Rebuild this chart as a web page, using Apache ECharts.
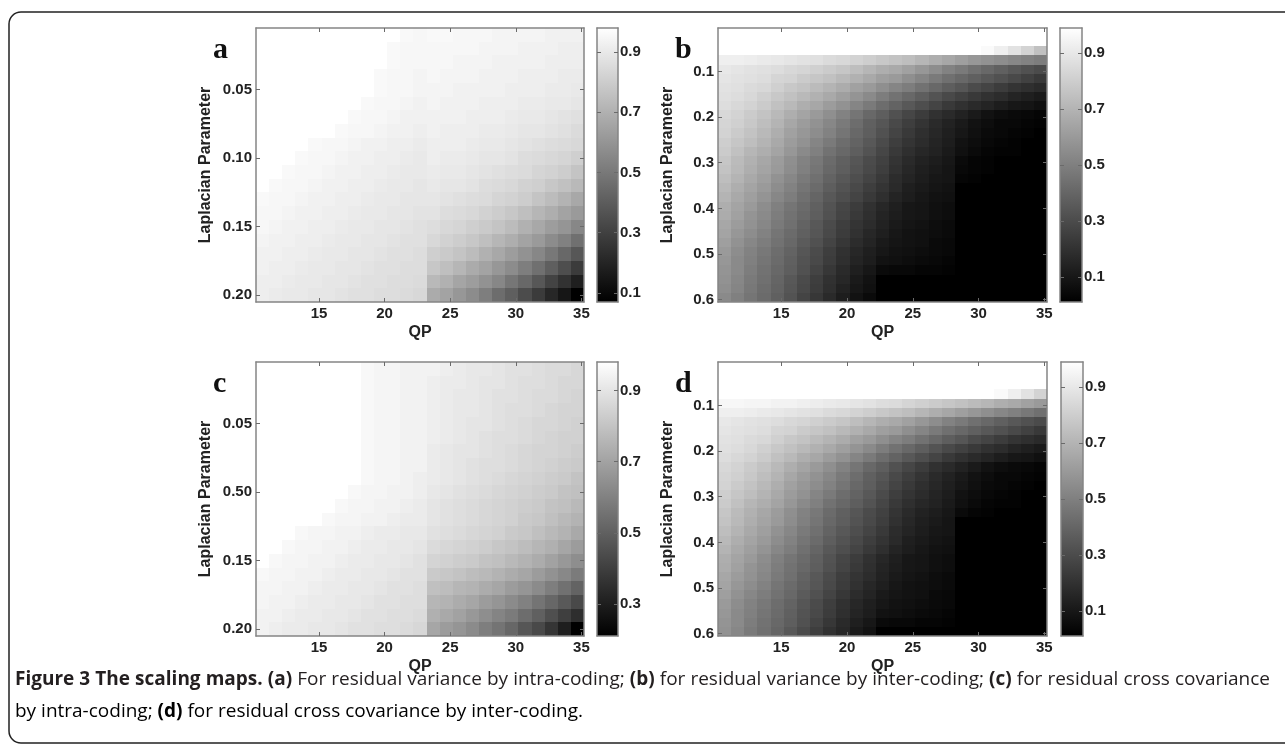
<!DOCTYPE html>
<html>
<head>
<meta charset="utf-8">
<title>Figure 3 The scaling maps</title>
<script src="https://cdn.jsdelivr.net/npm/echarts@6/dist/echarts.min.js"></script>
<style>
  html, body { margin: 0; padding: 0; background: #fff; }
  #chart { width: 1285px; height: 744px; }
</style>
</head>
<body>
<div id="chart"></div>
<script>
// QP columns (x) shared by all four maps
const qpCols = [11, 12, 13, 14, 15, 16, 17, 18, 19, 20, 21, 22, 23, 24, 25, 26, 27, 28, 29, 30, 31, 32, 33, 34, 35]
// Laplacian parameter rows: maps a/c, maps b/d
const lambdaAC = [0.01, 0.02, 0.03, 0.04, 0.05, 0.06, 0.07, 0.08, 0.09, 0.10, 0.11, 0.12, 0.13, 0.14, 0.15, 0.16, 0.17, 0.18, 0.19, 0.20]
const lambdaBD = [0.015, 0.035, 0.055, 0.075, 0.095, 0.115, 0.135, 0.155, 0.175, 0.195, 0.215, 0.235, 0.255, 0.275, 0.295,
  0.315, 0.335, 0.355, 0.375, 0.395, 0.415, 0.435, 0.455, 0.475, 0.495, 0.515, 0.535, 0.555, 0.575, 0.595]

// tick labels
const xTicks = [15, 20, 25, 30, 35]
const yTicksAC = [0.05, 0.10, 0.15, 0.20]
const yLabelsA = ['0.05', '0.10', '0.15', '0.20']
const yLabelsC = ['0.05', '0.50', '0.15', '0.20']
const yTicksBD = [0.1, 0.2, 0.3, 0.4, 0.5, 0.6]
const yLabelsBD = ['0.1', '0.2', '0.3', '0.4', '0.5', '0.6']
const cbTicks = [0.1, 0.3, 0.5, 0.7, 0.9]
const cbTicksC = [0.3, 0.5, 0.7, 0.9]

// colour ranges of the colour bars
const rangeA = [0.07, 0.98]
const rangeB = [0.01, 0.99]
const rangeC = [0.21, 0.98]
const rangeD = [0.01, 0.99]

// (a) residual variance, intra-coding
const mapA = [
  [.98, .98, .98, .98, .98, .98, .98, .98, .98, .98, .98, .96, .95, .96, .96, .95, .95, .95, .94, .94, .94, .94, .93, .93, .93],
  [.98, .98, .98, .98, .98, .98, .98, .98, .98, .98, .96, .95, .95, .95, .95, .95, .95, .94, .94, .94, .93, .93, .93, .92, .92],
  [.98, .98, .98, .98, .98, .98, .98, .98, .98, .98, .96, .95, .95, .95, .95, .94, .94, .94, .93, .93, .93, .93, .92, .92, .92],
  [.98, .98, .98, .98, .98, .98, .98, .98, .98, .96, .95, .95, .94, .95, .94, .94, .94, .93, .93, .93, .92, .92, .92, .91, .91],
  [.98, .98, .98, .98, .98, .98, .98, .98, .98, .96, .95, .95, .94, .94, .94, .93, .93, .93, .93, .92, .92, .92, .91, .91, .90],
  [.98, .98, .98, .98, .98, .98, .98, .98, .96, .95, .95, .94, .93, .94, .93, .93, .93, .92, .92, .92, .91, .91, .90, .90, .89],
  [.98, .98, .98, .98, .98, .98, .98, .96, .95, .95, .94, .93, .93, .93, .93, .93, .92, .92, .92, .91, .90, .90, .89, .88, .87],
  [.98, .98, .98, .98, .98, .98, .96, .95, .95, .94, .93, .93, .92, .93, .92, .92, .92, .91, .91, .90, .89, .89, .88, .87, .85],
  [.98, .98, .98, .98, .96, .95, .95, .94, .93, .93, .92, .92, .91, .92, .92, .92, .91, .90, .90, .89, .88, .87, .86, .85, .84],
  [.98, .98, .98, .96, .95, .95, .94, .93, .93, .92, .92, .91, .90, .92, .91, .91, .90, .89, .89, .88, .86, .85, .84, .83, .81],
  [.98, .98, .96, .95, .95, .94, .93, .93, .92, .92, .91, .90, .90, .91, .90, .90, .89, .88, .87, .86, .85, .83, .82, .80, .77],
  [.98, .96, .95, .95, .94, .93, .93, .92, .92, .91, .90, .90, .89, .90, .89, .89, .88, .86, .85, .84, .82, .81, .78, .76, .73],
  [.96, .95, .95, .94, .93, .93, .92, .92, .91, .90, .90, .89, .89, .89, .88, .87, .86, .85, .83, .82, .80, .77, .74, .71, .67],
  [.95, .95, .94, .93, .93, .92, .92, .91, .90, .90, .89, .89, .88, .88, .86, .85, .84, .82, .80, .78, .75, .72, .69, .65, .62],
  [.95, .94, .93, .93, .92, .92, .91, .90, .90, .89, .89, .88, .87, .86, .84, .83, .81, .79, .77, .74, .70, .67, .63, .60, .55],
  [.94, .93, .93, .92, .92, .91, .90, .90, .89, .89, .88, .87, .87, .84, .82, .80, .78, .75, .72, .69, .65, .62, .57, .53, .47],
  [.93, .93, .92, .92, .91, .90, .90, .89, .89, .88, .87, .87, .86, .81, .79, .77, .74, .70, .67, .63, .59, .55, .50, .44, .38],
  [.93, .92, .92, .91, .90, .90, .89, .89, .88, .87, .87, .86, .86, .78, .75, .72, .68, .65, .61, .57, .52, .47, .41, .35, .28],
  [.92, .92, .91, .90, .90, .89, .89, .88, .87, .87, .86, .86, .85, .73, .70, .66, .63, .59, .55, .49, .44, .38, .31, .25, .18],
  [.92, .91, .90, .90, .89, .89, .88, .87, .87, .86, .86, .85, .84, .68, .65, .61, .57, .52, .46, .41, .34, .28, .21, .15, .07]
]

// (b) residual variance, inter-coding
const mapB = [
  [.99, .99, .99, .99, .99, .99, .99, .99, .99, .99, .99, .99, .99, .99, .99, .99, .99, .99, .99, .99, .99, .99, .99, .99, .99],
  [.99, .99, .99, .99, .99, .99, .99, .99, .99, .99, .99, .99, .99, .99, .99, .99, .99, .99, .99, .99, .99, .99, .99, .99, .99],
  [.99, .99, .99, .99, .99, .99, .99, .99, .99, .99, .99, .99, .99, .99, .99, .99, .99, .99, .99, .99, .97, .93, .88, .82, .75],
  [.93, .93, .92, .91, .90, .89, .88, .87, .85, .84, .82, .80, .78, .76, .74, .71, .68, .65, .62, .59, .57, .55, .53, .51, .49],
  [.90, .89, .88, .87, .86, .84, .83, .81, .79, .77, .74, .71, .68, .66, .63, .59, .55, .51, .48, .44, .41, .38, .35, .32, .30],
  [.89, .88, .87, .86, .83, .82, .79, .77, .75, .72, .69, .66, .62, .60, .56, .52, .48, .44, .41, .38, .35, .32, .29, .26, .23],
  [.88, .87, .85, .84, .81, .78, .76, .73, .70, .67, .63, .60, .56, .52, .49, .45, .41, .37, .34, .30, .27, .24, .21, .19, .17],
  [.87, .86, .84, .81, .78, .75, .72, .69, .66, .62, .58, .54, .49, .45, .41, .37, .33, .29, .26, .23, .20, .18, .15, .13, .11],
  [.86, .84, .82, .79, .75, .72, .68, .65, .61, .57, .52, .48, .43, .39, .35, .31, .27, .23, .20, .17, .15, .12, .10, .09, .07],
  [.84, .82, .79, .76, .72, .68, .64, .60, .56, .51, .46, .41, .37, .32, .28, .24, .20, .17, .14, .11, .08, .06, .05, .04, .03],
  [.83, .81, .78, .74, .70, .65, .61, .57, .53, .48, .43, .38, .34, .29, .25, .21, .17, .14, .11, .08, .06, .04, .04, .03, .02],
  [.82, .79, .76, .72, .68, .63, .59, .55, .51, .46, .41, .37, .32, .27, .23, .19, .16, .13, .10, .07, .05, .04, .03, .02, .01],
  [.80, .77, .74, .70, .66, .61, .57, .52, .48, .43, .39, .35, .30, .25, .21, .18, .15, .12, .08, .06, .04, .03, .02, .01, .01],
  [.79, .75, .71, .68, .64, .59, .54, .50, .45, .41, .37, .33, .28, .23, .19, .16, .14, .11, .07, .05, .03, .02, .02, .01, .01],
  [.77, .73, .69, .65, .61, .56, .51, .47, .42, .38, .34, .30, .26, .21, .17, .14, .12, .10, .05, .03, .02, .01, .01, .01, .01],
  [.76, .72, .68, .64, .60, .55, .50, .46, .41, .37, .33, .29, .25, .20, .16, .13, .11, .09, .04, .03, .02, .01, .01, .01, .01],
  [.74, .70, .66, .62, .57, .53, .48, .44, .39, .35, .31, .27, .23, .18, .15, .12, .10, .09, .03, .02, .01, .01, .01, .01, .01],
  [.72, .68, .64, .60, .55, .51, .46, .42, .37, .33, .29, .25, .21, .17, .13, .11, .09, .08, .01, .01, .01, .01, .01, .01, .01],
  [.70, .66, .62, .58, .53, .49, .44, .40, .35, .31, .27, .23, .19, .15, .12, .10, .08, .07, .01, .01, .01, .01, .01, .01, .01],
  [.68, .64, .60, .55, .50, .46, .42, .38, .33, .28, .24, .20, .16, .13, .10, .09, .07, .06, .01, .01, .01, .01, .01, .01, .01],
  [.67, .63, .58, .54, .49, .45, .41, .37, .32, .27, .23, .19, .15, .12, .10, .09, .07, .06, .01, .01, .01, .01, .01, .01, .01],
  [.65, .61, .57, .53, .48, .44, .39, .35, .30, .25, .21, .18, .14, .11, .09, .08, .06, .05, .01, .01, .01, .01, .01, .01, .01],
  [.64, .59, .55, .51, .46, .42, .38, .34, .29, .24, .20, .16, .13, .10, .08, .07, .06, .05, .01, .01, .01, .01, .01, .01, .01],
  [.62, .57, .53, .49, .45, .41, .36, .32, .27, .22, .18, .15, .11, .09, .08, .07, .05, .04, .01, .01, .01, .01, .01, .01, .01],
  [.60, .55, .51, .47, .43, .39, .34, .30, .25, .20, .16, .13, .10, .08, .07, .06, .05, .04, .01, .01, .01, .01, .01, .01, .01],
  [.59, .54, .50, .46, .42, .38, .33, .29, .24, .19, .15, .12, .08, .07, .06, .05, .04, .03, .01, .01, .01, .01, .01, .01, .01],
  [.58, .54, .49, .45, .41, .37, .32, .27, .22, .17, .13, .10, .05, .04, .04, .03, .03, .02, .01, .01, .01, .01, .01, .01, .01],
  [.57, .53, .48, .44, .40, .35, .30, .25, .20, .16, .11, .08, .01, .01, .01, .01, .01, .01, .01, .01, .01, .01, .01, .01, .01],
  [.56, .52, .47, .43, .39, .34, .29, .24, .19, .14, .10, .07, .01, .01, .01, .01, .01, .01, .01, .01, .01, .01, .01, .01, .01],
  [.54, .50, .46, .42, .38, .33, .27, .22, .17, .12, .08, .05, .01, .01, .01, .01, .01, .01, .01, .01, .01, .01, .01, .01, .01]
]

// (c) residual cross covariance, intra-coding
const mapC = [
  [.98, .98, .98, .98, .98, .98, .98, .98, .96, .95, .95, .94, .94, .94, .93, .92, .91, .91, .90, .89, .89, .88, .87, .87, .86],
  [.98, .98, .98, .98, .98, .98, .98, .98, .96, .95, .95, .94, .94, .93, .92, .92, .91, .90, .90, .89, .88, .88, .87, .86, .86],
  [.98, .98, .98, .98, .98, .98, .98, .98, .96, .95, .95, .94, .94, .93, .92, .91, .91, .90, .89, .89, .88, .87, .87, .86, .85],
  [.98, .98, .98, .98, .98, .98, .98, .98, .96, .95, .95, .94, .94, .93, .92, .91, .91, .90, .89, .88, .88, .87, .86, .85, .85],
  [.98, .98, .98, .98, .98, .98, .98, .98, .96, .95, .95, .94, .94, .93, .92, .91, .90, .90, .89, .88, .87, .86, .86, .85, .84],
  [.98, .98, .98, .98, .98, .98, .98, .98, .96, .95, .95, .94, .94, .93, .92, .91, .90, .89, .88, .88, .87, .86, .85, .84, .84],
  [.98, .98, .98, .98, .98, .98, .98, .98, .96, .95, .95, .94, .94, .92, .91, .90, .90, .89, .88, .87, .86, .85, .85, .84, .83],
  [.98, .98, .98, .98, .98, .98, .98, .98, .96, .95, .95, .94, .94, .92, .91, .90, .89, .88, .88, .87, .86, .85, .84, .83, .82],
  [.98, .98, .98, .98, .98, .98, .98, .98, .96, .95, .95, .94, .93, .92, .91, .90, .89, .88, .87, .86, .85, .84, .83, .82, .80],
  [.98, .98, .98, .98, .98, .98, .98, .96, .95, .95, .94, .94, .93, .91, .90, .89, .88, .87, .86, .85, .84, .83, .82, .80, .79],
  [.98, .98, .98, .98, .98, .98, .96, .95, .95, .94, .94, .93, .92, .90, .89, .88, .87, .86, .85, .84, .83, .82, .80, .79, .77],
  [.98, .98, .98, .98, .98, .96, .95, .95, .94, .94, .93, .92, .92, .90, .89, .88, .87, .86, .85, .84, .82, .81, .79, .77, .75],
  [.98, .98, .98, .96, .95, .95, .94, .94, .93, .92, .92, .91, .91, .89, .88, .87, .86, .85, .84, .82, .81, .79, .77, .75, .72],
  [.98, .98, .96, .95, .95, .94, .94, .93, .92, .92, .91, .91, .90, .87, .86, .85, .84, .83, .81, .80, .78, .76, .74, .71, .68],
  [.98, .96, .95, .95, .94, .94, .93, .92, .92, .91, .91, .90, .89, .85, .84, .83, .82, .80, .79, .77, .75, .73, .70, .67, .64],
  [.96, .95, .95, .94, .94, .93, .92, .92, .91, .91, .90, .89, .89, .82, .81, .80, .78, .77, .75, .73, .71, .68, .65, .62, .58],
  [.95, .95, .94, .94, .93, .92, .92, .91, .91, .90, .89, .89, .88, .79, .78, .76, .75, .73, .71, .68, .66, .63, .59, .55, .51],
  [.95, .94, .94, .93, .92, .92, .91, .91, .90, .89, .89, .88, .88, .76, .75, .73, .71, .68, .66, .63, .60, .56, .52, .48, .43],
  [.94, .94, .93, .92, .92, .91, .91, .90, .89, .89, .88, .88, .87, .74, .72, .70, .67, .64, .61, .58, .54, .50, .45, .40, .35],
  [.94, .93, .92, .92, .91, .91, .90, .89, .89, .88, .88, .87, .86, .71, .68, .66, .63, .59, .56, .52, .47, .43, .37, .30, .21]
]

// (d) residual cross covariance, inter-coding
const mapD = [
  [.99, .99, .99, .99, .99, .99, .99, .99, .99, .99, .99, .99, .99, .99, .99, .99, .99, .99, .99, .99, .99, .99, .99, .99, .99],
  [.99, .99, .99, .99, .99, .99, .99, .99, .99, .99, .99, .99, .99, .99, .99, .99, .99, .99, .99, .99, .99, .99, .99, .99, .99],
  [.99, .99, .99, .99, .99, .99, .99, .99, .99, .99, .99, .99, .99, .99, .99, .99, .99, .99, .99, .99, .99, .99, .99, .99, .99],
  [.99, .99, .99, .99, .99, .99, .99, .99, .99, .99, .99, .99, .99, .99, .99, .99, .99, .99, .99, .99, .99, .97, .93, .88, .82],
  [.96, .96, .95, .95, .94, .94, .93, .92, .91, .90, .89, .88, .86, .85, .83, .81, .79, .77, .75, .73, .71, .68, .66, .63, .60],
  [.93, .93, .92, .91, .90, .89, .88, .87, .85, .84, .82, .80, .78, .76, .74, .71, .68, .65, .62, .59, .56, .53, .50, .47, .44],
  [.90, .89, .88, .87, .86, .84, .83, .81, .79, .77, .74, .71, .68, .66, .63, .59, .55, .51, .48, .44, .41, .38, .35, .32, .30],
  [.89, .88, .87, .86, .83, .82, .79, .77, .75, .72, .69, .66, .62, .60, .56, .52, .48, .44, .41, .38, .35, .32, .29, .26, .23],
  [.88, .87, .85, .84, .81, .78, .76, .73, .70, .67, .63, .60, .56, .52, .49, .45, .41, .37, .34, .30, .27, .24, .21, .19, .17],
  [.87, .86, .84, .81, .78, .75, .72, .69, .66, .62, .58, .54, .49, .45, .41, .37, .33, .29, .26, .23, .20, .18, .15, .13, .11],
  [.86, .84, .82, .79, .75, .72, .68, .65, .61, .57, .52, .48, .43, .39, .35, .31, .27, .23, .20, .17, .15, .12, .10, .09, .07],
  [.84, .82, .79, .76, .72, .68, .64, .60, .56, .51, .46, .41, .37, .32, .28, .24, .20, .17, .14, .11, .08, .06, .05, .04, .03],
  [.83, .81, .78, .74, .70, .65, .61, .57, .53, .48, .43, .38, .34, .29, .25, .21, .17, .14, .11, .08, .06, .04, .04, .03, .02],
  [.82, .79, .76, .72, .68, .63, .59, .55, .51, .46, .41, .37, .32, .27, .23, .19, .16, .13, .10, .07, .05, .04, .03, .02, .01],
  [.80, .77, .74, .70, .66, .61, .57, .52, .48, .43, .39, .35, .30, .25, .21, .18, .15, .12, .08, .06, .04, .03, .02, .01, .01],
  [.79, .75, .71, .68, .64, .59, .54, .50, .45, .41, .37, .33, .28, .23, .19, .16, .14, .11, .07, .05, .03, .02, .02, .01, .01],
  [.77, .73, .69, .65, .61, .56, .51, .47, .42, .38, .34, .30, .26, .21, .17, .14, .12, .10, .05, .03, .02, .01, .01, .01, .01],
  [.76, .72, .68, .64, .60, .55, .50, .46, .41, .37, .33, .29, .25, .20, .16, .13, .11, .09, .01, .01, .01, .01, .01, .01, .01],
  [.74, .70, .66, .62, .57, .53, .48, .44, .39, .35, .31, .27, .23, .18, .15, .12, .10, .09, .01, .01, .01, .01, .01, .01, .01],
  [.72, .68, .64, .60, .55, .51, .46, .42, .37, .33, .29, .25, .21, .17, .13, .11, .09, .08, .01, .01, .01, .01, .01, .01, .01],
  [.70, .66, .62, .58, .53, .49, .44, .40, .35, .31, .27, .23, .19, .15, .12, .10, .08, .07, .01, .01, .01, .01, .01, .01, .01],
  [.68, .64, .60, .55, .50, .46, .42, .38, .33, .28, .24, .20, .16, .13, .10, .09, .07, .06, .01, .01, .01, .01, .01, .01, .01],
  [.67, .63, .58, .54, .49, .45, .41, .37, .32, .27, .23, .19, .15, .12, .10, .09, .07, .06, .01, .01, .01, .01, .01, .01, .01],
  [.65, .61, .57, .53, .48, .44, .39, .35, .30, .25, .21, .18, .14, .11, .09, .08, .06, .05, .01, .01, .01, .01, .01, .01, .01],
  [.64, .59, .55, .51, .46, .42, .38, .34, .29, .24, .20, .16, .13, .10, .08, .07, .06, .05, .01, .01, .01, .01, .01, .01, .01],
  [.62, .57, .53, .49, .45, .41, .36, .32, .27, .22, .18, .15, .11, .09, .08, .07, .05, .04, .01, .01, .01, .01, .01, .01, .01],
  [.60, .55, .51, .47, .43, .39, .34, .30, .25, .20, .16, .13, .10, .08, .07, .06, .05, .04, .01, .01, .01, .01, .01, .01, .01],
  [.59, .54, .50, .46, .42, .38, .33, .29, .24, .19, .15, .12, .08, .07, .06, .05, .04, .03, .01, .01, .01, .01, .01, .01, .01],
  [.58, .54, .49, .45, .41, .37, .32, .27, .22, .17, .13, .10, .05, .04, .04, .03, .03, .02, .01, .01, .01, .01, .01, .01, .01],
  [.57, .53, .48, .44, .40, .35, .30, .25, .20, .16, .11, .08, .01, .01, .01, .01, .01, .01, .01, .01, .01, .01, .01, .01, .01]
]

const chart = echarts.init(document.getElementById('chart'), null, { renderer: 'canvas' })

const FONT = 'Liberation Sans, Arial, Helvetica, sans-serif'
const TEXT = '#222'
const FRAME = '#858585'
const tickFont = { fontFamily: FONT, fontWeight: 'bold', fontSize: 15, color: TEXT }
const nameFont = { fontFamily: FONT, fontWeight: 'bold', fontSize: 16, color: TEXT }

// layout of the four panels (pixels)
const panels = [
  { letter: 'a', map: mapA, rows: lambdaAC, half: 0.005, yMin: 0.005, yMax: 0.205, yTicks: yTicksAC, yLabels: yLabelsA, range: rangeA, cb: cbTicks, left: 256, top: 28, width: 328, cbLeft: 597, cbWidth: 21 },
  { letter: 'b', map: mapB, rows: lambdaBD, half: 0.01, yMin: 0.005, yMax: 0.605, yTicks: yTicksBD, yLabels: yLabelsBD, range: rangeB, cb: cbTicks, left: 718, top: 28, width: 329, cbLeft: 1060, cbWidth: 22 },
  { letter: 'c', map: mapC, rows: lambdaAC, half: 0.005, yMin: 0.005, yMax: 0.205, yTicks: yTicksAC, yLabels: yLabelsC, range: rangeC, cb: cbTicksC, left: 256, top: 362, width: 328, cbLeft: 597, cbWidth: 21 },
  { letter: 'd', map: mapD, rows: lambdaBD, half: 0.01, yMin: 0.005, yMax: 0.605, yTicks: yTicksBD, yLabels: yLabelsBD, range: rangeD, cb: cbTicks, left: 718, top: 362, width: 329, cbLeft: 1061, cbWidth: 22 }
]
const PANEL_H = 274

function toCells(map, rows) {
  const out = []
  map.forEach((row, j) => {
    row.forEach((v, i) => out.push([qpCols[i], rows[j], v]))
  })
  return out
}

function ticks(values) {
  return { show: true, inside: true, length: 4, customValues: values, lineStyle: { color: '#6a6a6a', width: 1 } }
}
function line() {
  return { show: true, onZero: false, lineStyle: { color: FRAME, width: 1.5 } }
}
function labelFor(ticksArr, labels) {
  return v => {
    const k = ticksArr.findIndex(t => Math.abs(t - v) < 1e-9)
    return k < 0 ? '' : labels[k]
  }
}
// snap a rectangle to whole pixels so neighbouring cells leave no seams
function pixelRect(a, b) {
  const x0 = Math.round(Math.min(a[0], b[0]))
  const x1 = Math.round(Math.max(a[0], b[0]))
  const y0 = Math.round(Math.min(a[1], b[1]))
  const y1 = Math.round(Math.max(a[1], b[1]))
  return { x: x0, y: y0, width: x1 - x0, height: y1 - y0 }
}

const grid = []
const xAxis = []
const yAxis = []
const series = []
const visualMap = []

panels.forEach((p) => {
  const g = grid.length
  grid.push({ left: p.left, top: p.top, width: p.width, height: PANEL_H })
  grid.push({ left: p.cbLeft, top: p.top, width: p.cbWidth, height: PANEL_H })

  const xi = xAxis.length
  xAxis.push({
    type: 'value', gridIndex: g, min: 10.2, max: 35.2, position: 'bottom', z: 5,
    axisLine: line(), axisTick: ticks(xTicks), splitLine: { show: false },
    axisLabel: Object.assign({ customValues: xTicks, margin: 4 }, tickFont),
    name: 'QP', nameLocation: 'middle', nameGap: 23,
    nameTextStyle: nameFont
  })
  xAxis.push({
    type: 'value', gridIndex: g, min: 10.2, max: 35.2, position: 'top', z: 5,
    axisLine: line(), axisTick: ticks(xTicks), axisLabel: { show: false }, splitLine: { show: false }
  })
  const cxi = xAxis.length
  xAxis.push({ type: 'value', gridIndex: g + 1, min: 0, max: 1, position: 'bottom', z: 5, axisLine: line(), axisTick: { show: false }, axisLabel: { show: false }, splitLine: { show: false } })
  xAxis.push({ type: 'value', gridIndex: g + 1, min: 0, max: 1, position: 'top', z: 5, axisLine: line(), axisTick: { show: false }, axisLabel: { show: false }, splitLine: { show: false } })

  const yi = yAxis.length
  yAxis.push({
    type: 'value', gridIndex: g, min: p.yMin, max: p.yMax, inverse: true, position: 'left', z: 5,
    axisLine: line(), axisTick: ticks(p.yTicks), splitLine: { show: false },
    axisLabel: Object.assign({ customValues: p.yTicks, margin: 4, formatter: labelFor(p.yTicks, p.yLabels) }, tickFont),
    name: 'Laplacian Parameter', nameLocation: 'middle', nameGap: 42,
    nameTextStyle: nameFont
  })
  yAxis.push({
    type: 'value', gridIndex: g, min: p.yMin, max: p.yMax, inverse: true, position: 'right', z: 5,
    axisLine: line(), axisTick: ticks(p.yTicks), axisLabel: { show: false }, splitLine: { show: false }
  })
  const cyi = yAxis.length
  yAxis.push({
    type: 'value', gridIndex: g + 1, min: p.range[0], max: p.range[1], position: 'left', z: 5,
    axisLine: line(), axisTick: ticks(p.cb), axisLabel: { show: false }, splitLine: { show: false }
  })
  yAxis.push({
    type: 'value', gridIndex: g + 1, min: p.range[0], max: p.range[1], position: 'right', z: 5,
    axisLine: line(), axisTick: ticks(p.cb), splitLine: { show: false },
    axisLabel: Object.assign({ customValues: p.cb, margin: 2, formatter: v => v.toFixed(1) }, tickFont)
  })

  const half = p.half
  visualMap.push({
    type: 'continuous', show: false, seriesIndex: series.length, dimension: 2,
    min: p.range[0], max: p.range[1], inRange: { color: ['#000000', '#ffffff'] }
  })
  series.push({
    type: 'custom', xAxisIndex: xi, yAxisIndex: yi, clip: true, z: 2,
    data: toCells(p.map, p.rows),
    renderItem(params, api) {
      const a = api.coord([api.value(0) - 0.8, api.value(1) - half])
      const b = api.coord([api.value(0) + 0.2, api.value(1) + half])
      return { type: 'rect', shape: pixelRect(a, b), style: { fill: api.visual('color') } }
    }
  })
  series.push({
    type: 'custom', xAxisIndex: cxi, yAxisIndex: cyi, clip: true, z: 2,
    data: [[0, p.range[0], 1, p.range[1]]],
    renderItem(params, api) {
      const a = api.coord([api.value(0), api.value(1)])
      const b = api.coord([api.value(2), api.value(3)])
      return {
        type: 'rect',
        shape: pixelRect(a, b),
        style: {
          fill: new echarts.graphic.LinearGradient(0, 0, 0, 1, [
            { offset: 0, color: '#ffffff' },
            { offset: 1, color: '#000000' }
          ])
        }
      }
    }
  })
})

// panel letters
const letters = panels.map(p => ({
  type: 'text',
  x: p.left - 43,
  y: p.top + 22,
  style: { text: p.letter, font: 'bold 30px "Liberation Serif", "Times New Roman", serif', fill: '#111', verticalAlign: 'middle' }
}))

// caption: first line justified across the box, second line flush left
const CAP_BOLD = 'bold 19px "Open Sans", sans-serif'
const CAP_NORM = '19px "Open Sans", sans-serif'
const CAP_COLOR = '#231f20'
const line1 = [
  ['Figure', 1], ['3', 1], ['The', 1], ['scaling', 1], ['maps.', 1], ['(a)', 1], ['For', 0], ['residual', 0], ['variance', 0],
  ['by', 0], ['intra-coding;', 0], ['(b)', 1], ['for', 0], ['residual', 0], ['variance', 0], ['by', 0], ['inter-coding;', 0],
  ['(c)', 1], ['for', 0], ['residual', 0], ['cross', 0], ['covariance', 0]
]
const measure = document.createElement('canvas').getContext('2d')
const widths = line1.map(([w, bold]) => {
  measure.font = bold ? CAP_BOLD : CAP_NORM
  return measure.measureText(w).width
})
const CAP_LEFT = 15
const CAP_RIGHT = 1270
const gap = (CAP_RIGHT - CAP_LEFT - widths.reduce((s, w) => s + w, 0)) / (line1.length - 1)
const captionWords = []
let cx = CAP_LEFT
line1.forEach(([w, bold], k) => {
  captionWords.push({
    type: 'text', x: cx, y: 680,
    style: { text: w, font: bold ? CAP_BOLD : CAP_NORM, fill: CAP_COLOR, verticalAlign: 'middle' }
  })
  cx += widths[k] + gap
})
const capRich = { fontFamily: 'Open Sans, sans-serif', fontSize: 19, color: CAP_COLOR }
captionWords.push({
  type: 'text', x: CAP_LEFT, y: 712,
  style: {
    text: '{n|by intra-coding; }{b|(d)}{n| for residual cross covariance by inter-coding.}',
    rich: { b: Object.assign({ fontWeight: 'bold' }, capRich), n: capRich },
    verticalAlign: 'middle'
  }
})

const border = {
  type: 'rect',
  shape: { x: 9, y: 12, width: 1300, height: 731, r: 12 },
  style: { fill: 'none', stroke: '#222', lineWidth: 1.5 }
}

chart.setOption({
  animation: false,
  backgroundColor: '#ffffff',
  grid,
  xAxis,
  yAxis,
  visualMap,
  series,
  graphic: [border].concat(captionWords, letters)
})
</script>
</body>
</html>
